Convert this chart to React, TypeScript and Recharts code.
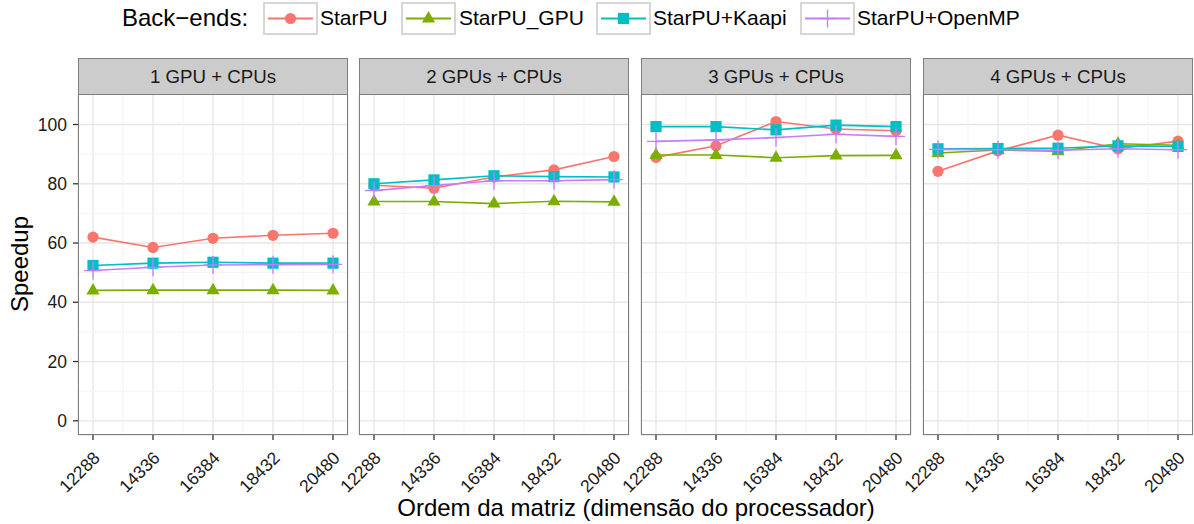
import React from "react";
import { LineChart, Line, XAxis, YAxis, CartesianGrid, ReferenceLine } from "recharts";

const sizes = [12288, 14336, 16384, 18432, 20480];
const panelTitles = ["1 GPU + CPUs", "2 GPUs + CPUs", "3 GPUs + CPUs", "4 GPUs + CPUs"];
const seriesNames = ["StarPU", "StarPU_GPU", "StarPU+Kaapi", "StarPU+OpenMP"];

const starpu = [
  [62.0, 58.5, 61.6, 62.6, 63.3],
  [79.5, 78.5, 82.3, 84.7, 89.2],
  [88.9, 92.8, 101.0, 98.5, 97.9],
  [84.2, 91.1, 96.4, 91.8, 94.4],
];
const starpuGpu = [
  [44.0, 44.1, 44.1, 44.1, 44.0],
  [74.0, 74.0, 73.3, 74.1, 73.9],
  [89.7, 89.7, 88.8, 89.5, 89.6],
  [90.4, 91.4, 91.0, 93.5, 93.0],
];
const kaapi = [
  [52.4, 53.2, 53.5, 53.2, 53.2],
  [80.0, 81.3, 82.7, 82.4, 82.3],
  [99.3, 99.3, 98.2, 99.8, 99.3],
  [91.8, 91.9, 92.0, 92.8, 92.6],
];
const openmp = [
  [50.7, 51.8, 52.6, 52.7, 52.8],
  [77.7, 79.4, 81.0, 81.0, 81.4],
  [94.3, 94.8, 95.6, 96.7, 96.0],
  [91.6, 91.5, 91.3, 91.8, 91.5],
];

const yTicks = [0, 20, 40, 60, 80, 100];
const yMinor = [10, 30, 50, 70, 90, 110];
const xMinor = [13312, 15360, 17408, 19456];

const colors = ["#F8766D", "#7CAE00", "#00BFC4", "#C77CFF"];
const FONT = '"Liberation Sans", Arial, Helvetica, sans-serif';

const X_DOMAIN = [12288 - 512, 20480 + 512];
const Y_DOMAIN = [-4.8, 110.3];

const PLOT_LEFT = [78, 359, 641, 923];
const PLOT_W = 270;
const PLOT_TOP = 94;
const PLOT_H = 341;
const XAXIS_H = 80;

function Marker({ kind, cx, cy, color }: { kind: number; cx: number; cy: number; color: string }) {
  if (cx == null || cy == null || isNaN(cx) || isNaN(cy)) return <g />;
  if (kind === 0) return <circle cx={cx} cy={cy} r={5.6} fill={color} />;
  if (kind === 1)
    return (
      <polygon
        points={`${cx},${cy - 7.5} ${cx + 6.6},${cy + 4} ${cx - 6.6},${cy + 4}`}
        fill={color}
      />
    );
  if (kind === 2) return <rect x={cx - 5.6} y={cy - 5.6} width={11.2} height={11.2} fill={color} />;
  return (
    <g stroke={color} strokeWidth={1.3}>
      <line x1={cx - 9} y1={cy} x2={cx + 9} y2={cy} />
      <line x1={cx} y1={cy - 9} x2={cx} y2={cy + 9} />
    </g>
  );
}

const XTick = (props: any) => {
  const { x, y, payload } = props;
  return (
    <g transform={`translate(${x + 8},${y + 17})`}>
      <text transform="rotate(-45)" textAnchor="end" fontSize={17.5} fontFamily={FONT} fill="#1a1a1a">
        {payload.value}
      </text>
    </g>
  );
};

function Panel({ idx }: { idx: number }) {
  const data = sizes.map((s, i) => ({
    size: s,
    s0: starpu[idx][i],
    s1: starpuGpu[idx][i],
    s2: kaapi[idx][i],
    s3: openmp[idx][i],
  }));
  const first = idx === 0;
  const marginLeft = first ? 0 : 45;
  const yW = first ? 78 : 0;
  const width = marginLeft + yW + PLOT_W + 5;
  const left = PLOT_LEFT[idx] - marginLeft - yW;
  return (
    <div style={{ position: "absolute", left, top: PLOT_TOP }}>
      <LineChart
        width={width}
        height={PLOT_H + XAXIS_H}
        data={data}
        margin={{ top: 0, right: 5, left: marginLeft, bottom: 0 }}
      >
        {yMinor.map((v) => (
          <ReferenceLine key={`ym${v}`} y={v} stroke="#f3f3f3" strokeWidth={1} ifOverflow="hidden" />
        ))}
        {xMinor.map((v) => (
          <ReferenceLine key={`xm${v}`} x={v} stroke="#f3f3f3" strokeWidth={1} ifOverflow="hidden" />
        ))}
        <CartesianGrid stroke="#e6e6e6" strokeWidth={1.3} />
        <XAxis
          dataKey="size"
          type="number"
          domain={X_DOMAIN}
          ticks={sizes}
          allowDataOverflow
          height={XAXIS_H}
          axisLine={false}
          tickLine={{ stroke: "#333", strokeWidth: 1.3 }}
          tickSize={5}
          tickMargin={2}
          tick={<XTick />}
          interval={0}
        />
        <YAxis
          type="number"
          domain={Y_DOMAIN}
          ticks={yTicks}
          allowDataOverflow
          hide={!first}
          width={yW}
          axisLine={false}
          tickLine={{ stroke: "#333", strokeWidth: 1.3 }}
          tickSize={5}
          tickMargin={6}
          tick={{ fontSize: 17.5, fontFamily: FONT, fill: "#1a1a1a" }}
          interval={0}
        />
        {["s0", "s1", "s2", "s3"].map((k, si) => (
          <Line
            key={k}
            dataKey={k}
            stroke={colors[si]}
            strokeWidth={1.6}
            isAnimationActive={false}
            dot={(p: any) => <Marker key={`${k}-${p.index}`} kind={si} cx={p.cx} cy={p.cy} color={colors[si]} />}
            activeDot={false}
          />
        ))}
      </LineChart>
    </div>
  );
}

function LegendKey({ kind }: { kind: number }) {
  return (
    <svg width={55} height={33} style={{ display: "block" }}>
      <rect x={1} y={1} width={53} height={31} fill="#fff" stroke="#d6d6d6" strokeWidth={2} />
      <line x1={5} y1={16.5} x2={50} y2={16.5} stroke={colors[kind]} strokeWidth={2} />
      <Marker kind={kind} cx={27.5} cy={16.5} color={colors[kind]} />
    </svg>
  );
}

const legendBoxX = [263, 401, 596, 800];
const legendTextX = [320, 459, 653, 857];

export default function App() {
  return (
    <div
      style={{
        position: "absolute",
        left: 0,
        top: 0,
        width: 1194,
        height: 524,
        background: "#fff",
        fontFamily: FONT,
        overflow: "hidden",
      }}
    >
      <div style={{ position: "absolute", left: 122, top: 4, fontSize: 24, color: "#000", lineHeight: "28px" }}>
        Back−ends:
      </div>
      {seriesNames.map((n, i) => (
        <React.Fragment key={n}>
          <div style={{ position: "absolute", left: legendBoxX[i], top: 2 }}>
            <LegendKey kind={i} />
          </div>
          <div
            style={{
              position: "absolute",
              left: legendTextX[i],
              top: 6,
              fontSize: 21,
              lineHeight: "24px",
              color: "#000",
            }}
          >
            {n}
          </div>
        </React.Fragment>
      ))}

      {panelTitles.map((t, i) => (
        <React.Fragment key={t}>
          <Panel idx={i} />
          <div
            style={{
              position: "absolute",
              left: PLOT_LEFT[i],
              top: 58,
              width: PLOT_W,
              height: 37,
              boxSizing: "border-box",
              background: "#cccccc",
              border: "1px solid #7f7f7f",
              fontSize: 18.7,
              color: "#1a1a1a",
              textAlign: "center",
              lineHeight: "35px",
            }}
          >
            {t}
          </div>
          <div
            style={{
              position: "absolute",
              left: PLOT_LEFT[i],
              top: PLOT_TOP,
              width: PLOT_W,
              height: PLOT_H,
              boxSizing: "border-box",
              border: "1px solid #7f7f7f",
              pointerEvents: "none",
            }}
          />
        </React.Fragment>
      ))}

      <div
        style={{
          position: "absolute",
          left: 20,
          top: 264,
          transform: "translate(-50%, -50%) rotate(-90deg)",
          fontSize: 24,
          whiteSpace: "nowrap",
          color: "#000",
        }}
      >
        Speedup
      </div>
      <div
        style={{
          position: "absolute",
          left: 636,
          top: 494,
          transform: "translateX(-50%)",
          fontSize: 24,
          whiteSpace: "nowrap",
          color: "#000",
        }}
      >
        Ordem da matriz (dimensão do processador)
      </div>
    </div>
  );
}
